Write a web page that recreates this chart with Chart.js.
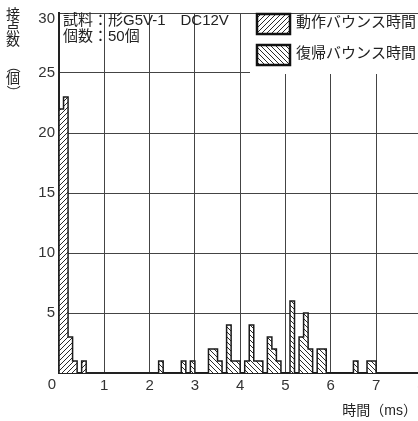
<!DOCTYPE html>
<html>
<head>
<meta charset="utf-8">
<script src="https://cdn.jsdelivr.net/npm/chart.js@4/dist/chart.umd.min.js"></script>
<style>
  html, body { margin: 0; padding: 0; background: #fff; overflow: hidden; }
  #wrap { width: 460px; height: 421px; }
</style>
</head>
<body>
<div id="wrap"><canvas id="bounceChart" width="460" height="421"></canvas></div>
<script>
// 0.1ms bins: start of each bin and number of contacts in it
const binWidth = 0.1;
const operateBins = [0.0, 0.1, 0.2, 0.3, 0.5];
const operateCounts = [22, 23, 3, 1, 1];
const releaseBins = [2.2, 2.7, 2.9, 3.3, 3.4, 3.5, 3.7, 3.8, 3.9, 4.1, 4.2, 4.3, 4.4,
                     4.6, 4.7, 4.8, 5.1, 5.3, 5.4, 5.5, 5.7, 5.8, 6.5, 6.8, 6.9];
const releaseCounts = [1, 1, 1, 2, 2, 1, 4, 1, 1, 1, 4, 1, 1,
                       3, 2, 1, 6, 3, 5, 2, 2, 2, 1, 1, 1];
const seriesNames = ['動作バウンス時間', '復帰バウンス時間'];

const FONT = "'Liberation Sans', 'Noto Sans CJK JP', sans-serif";

// diagonal hatch fill, dir 1 = '/', -1 = '\'
function hatch(dir) {
  const s = 5;
  const c = document.createElement('canvas');
  c.width = s; c.height = s;
  const g = c.getContext('2d');
  g.fillStyle = '#fff';
  g.fillRect(0, 0, s, s);
  g.strokeStyle = '#2a2a2a';
  g.lineWidth = 1;
  g.beginPath();
  if (dir > 0) {
    g.moveTo(0, s); g.lineTo(s, 0);
    g.moveTo(-1, 1); g.lineTo(1, -1);
    g.moveTo(s - 1, s + 1); g.lineTo(s + 1, s - 1);
  } else {
    g.moveTo(0, 0); g.lineTo(s, s);
    g.moveTo(s - 1, -1); g.lineTo(s + 1, 1);
    g.moveTo(-1, s - 1); g.lineTo(1, s + 1);
  }
  g.stroke();
  return g.createPattern(c, 'repeat');
}

// turn bins into points for a stepped outline (histogram look)
function stepPoints(bins, counts) {
  const pts = [];
  let prevEnd = null;
  bins.forEach((b, i) => {
    if (prevEnd === null || Math.abs(prevEnd - b) > 1e-6) {
      if (prevEnd !== null) pts.push({ x: prevEnd, y: 0 });
      pts.push({ x: b, y: 0 });
    }
    pts.push({ x: b, y: counts[i] });
    prevEnd = b + binWidth;
  });
  pts.push({ x: prevEnd, y: 0 });
  return pts;
}

const extras = {
  id: 'extras',
  beforeDatasetsDraw(chart) {
    // white box behind the legend hides the grid there
    const ctx = chart.ctx;
    ctx.save();
    ctx.fillStyle = '#fff';
    ctx.fillRect(250, 14, chart.width - 250, 60);
    ctx.restore();
  },
  afterDraw(chart) {
    const ctx = chart.ctx;
    const { x, y } = chart.scales;
    ctx.save();
    ctx.textBaseline = 'middle';

    // end tick labels that sit off their lines in the original
    ctx.fillStyle = '#333';
    ctx.font = '15px ' + FONT;
    ctx.textAlign = 'center';
    ctx.fillText('0', x.getPixelForValue(0) - 7, 385);
    ctx.textAlign = 'right';
    ctx.fillText('30', 55, y.getPixelForValue(30) + 6);

    // sample info
    ctx.fillStyle = '#222';
    ctx.textAlign = 'left';
    ctx.font = '15px ' + FONT;
    ctx.fillText('試料：形G5V-1　DC12V', 63, 21);
    ctx.fillText('個数：50個', 63, 37);

    // legend
    const rows = [14, 45];
    chart.data.datasets.forEach((ds, i) => {
      const top = rows[i];
      ctx.fillStyle = ds.backgroundColor;
      ctx.fillRect(257, top, 33, 20);
      ctx.lineWidth = 2.5;
      ctx.strokeStyle = '#111';
      ctx.strokeRect(257, top, 33, 20);
      ctx.fillStyle = '#222';
      ctx.font = '15px ' + FONT;
      ctx.fillText(ds.label, 296, top + 9);
    });

    // y title, stacked vertically; brackets turned for vertical writing
    ctx.textAlign = 'center';
    ctx.font = '14px ' + FONT;
    [['接', 15], ['点', 28], ['数', 41], ['個', 79]].forEach(([ch, cy]) => ctx.fillText(ch, 13, cy));
    [['（', 66], ['）', 92]].forEach(([ch, cy]) => {
      ctx.save();
      ctx.translate(13, cy);
      ctx.rotate(Math.PI / 2);
      ctx.fillText(ch, 0, 0);
      ctx.restore();
    });

    // x title
    ctx.textAlign = 'right';
    ctx.font = '14px ' + FONT;
    ctx.fillText('時間（ms）', 417, 411);
    ctx.restore();
  }
};

new Chart(document.getElementById('bounceChart'), {
  type: 'line',
  data: {
    datasets: [
      {
        label: seriesNames[0],
        data: stepPoints(operateBins, operateCounts),
        stepped: 'before',
        fill: 'origin',
        backgroundColor: hatch(1),
        borderColor: '#1a1a1a',
        borderWidth: 1.5,
        pointRadius: 0
      },
      {
        label: seriesNames[1],
        data: stepPoints(releaseBins, releaseCounts),
        stepped: 'before',
        fill: 'origin',
        backgroundColor: hatch(-1),
        borderColor: '#1a1a1a',
        borderWidth: 1.5,
        pointRadius: 0
      }
    ]
  },
  options: {
    responsive: false,
    animation: false,
    layout: { padding: { top: 10, right: 16, bottom: 0, left: 0 } },
    plugins: { legend: { display: false }, tooltip: { enabled: false } },
    scales: {
      x: {
        type: 'linear',
        min: 0,
        max: 8.5,
        afterFit(scale) { scale.height = 48; },
        ticks: {
          stepSize: 1,
          includeBounds: false,
          padding: 4,
          color: '#333',
          font: { size: 15, family: FONT },
          callback: (v) => (v === 0 ? '' : v)
        },
        grid: { color: '#444', lineWidth: 1, drawTicks: false },
        border: { color: '#222', width: 2 }
      },
      y: {
        min: 0,
        max: 30,
        afterFit(scale) { scale.width = 59; },
        ticks: {
          stepSize: 5,
          padding: 4,
          color: '#333',
          font: { size: 15, family: FONT },
          callback: (v) => (v === 0 || v === 30 ? '' : v)
        },
        grid: { color: '#444', lineWidth: 1, drawTicks: false },
        border: { color: '#222', width: 2 }
      }
    }
  },
  plugins: [extras]
});
</script>
</body>
</html>
